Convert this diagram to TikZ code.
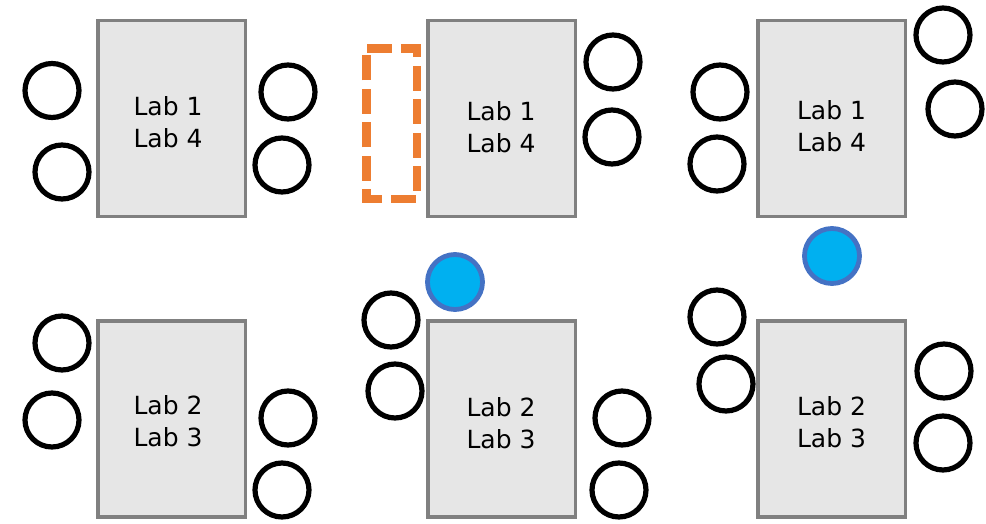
\documentclass[tikz,border=0pt]{standalone}
\usepackage{fontspec}
\setmainfont{DejaVu Sans}
\definecolor{tablegray}{RGB}{128,128,128}
\definecolor{tablefill}{RGB}{230,230,230}
\definecolor{movedorange}{RGB}{237,125,49}
\definecolor{extrafill}{RGB}{0,176,240}
\definecolor{extraedge}{RGB}{68,114,196}
\begin{document}
\begin{tikzpicture}[x=1pt,y=-1pt,
  labtable/.style={draw=tablegray, fill=tablefill, line width=3.6pt,
    minimum width=147.6pt, minimum height=196pt, inner sep=0pt},
  chair/.style={circle, draw=black, line width=5.2pt, minimum size=54pt, inner sep=0pt},
  extra/.style={circle, draw=extraedge, fill=extrafill, line width=4.8pt,
    minimum size=55pt, inner sep=0pt},
  tag/.style={align=center, inner sep=0pt, font=\fontsize{25}{32}\selectfont},
  moved/.style={draw=movedorange, line width=8.4pt, dash pattern=on 25pt off 8.5pt,
    dash phase=32.5pt}]
\useasboundingbox (0,0) rectangle (986,523);

% top row of tables
\node[labtable] (t1) at (171.5,118.3) {};
\node[labtable] (t2) at (501.5,118.3) {};
\node[labtable] (t3) at (831.5,118.3) {};
% bottom row of tables
\node[labtable] (b1) at (171.5,419) {};
\node[labtable] (b2) at (501.5,419) {};
\node[labtable] (b3) at (831.5,419) {};

% lab names on the tables
\node[tag] (t1l) at (168,122) {Lab 1\\Lab 4};
\node[tag] (t2l) at (501,127) {Lab 1\\Lab 4};
\node[tag] (t3l) at (831.5,126) {Lab 1\\Lab 4};
\node[tag] (b1l) at (168,421.5) {Lab 2\\Lab 3};
\node[tag] (b2l) at (501,423) {Lab 2\\Lab 3};
\node[tag] (b3l) at (831.5,422.5) {Lab 2\\Lab 3};

% empty place left of the second table
\draw[moved] (366.3,48.3) -- (416.7,48.3) -- (416.7,198.7) -- (366.3,198.7) -- cycle;

% chairs, top row
\node[chair] (t1a) at (52,90.5) {};
\node[chair] (t1b) at (62,172) {};
\node[chair] (t1c) at (288,92) {};
\node[chair] (t1d) at (282,165) {};
\node[chair] (t2c) at (613,62) {};
\node[chair] (t2d) at (612,137) {};
\node[chair] (t3a) at (720,92) {};
\node[chair] (t3b) at (717,164) {};
\node[chair] (t3c) at (943,35) {};
\node[chair] (t3d) at (955,109) {};

% chairs, bottom row
\node[chair] (b1a) at (62,343) {};
\node[chair] (b1b) at (52,420) {};
\node[chair] (b1c) at (288,418) {};
\node[chair] (b1d) at (282,490) {};
\node[chair] (b2a) at (391,320) {};
\node[chair] (b2b) at (395,391) {};
\node[chair] (b2c) at (622,418) {};
\node[chair] (b2d) at (619,490) {};
\node[chair] (b3a) at (717,317) {};
\node[chair] (b3b) at (726,384) {};
\node[chair] (b3c) at (944,371) {};
\node[chair] (b3d) at (943,443) {};

% added seats
\node[extra] (x2) at (455,282) {};
\node[extra] (x3) at (832,256) {};
\end{tikzpicture}
\end{document}
